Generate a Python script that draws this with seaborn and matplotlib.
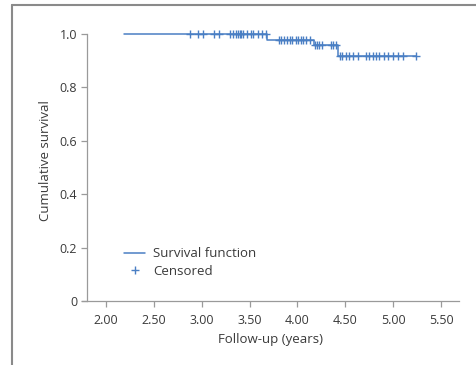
import numpy as np
import pandas as pd
import matplotlib
matplotlib.use("Agg")
import matplotlib.pyplot as plt
from matplotlib.lines import Line2D
import seaborn as sns

# ---- data ----
step_times = [2.19, 3.68, 4.17, 4.42, 5.24]
step_surv = [1.0, 0.978, 0.957, 0.919, 0.919]
censor_times = [2.875, 2.96, 3.01, 3.13, 3.18, 3.30, 3.33, 3.36, 3.38, 3.40, 3.41, 3.43,
                3.47, 3.51, 3.54, 3.59, 3.63, 3.67,
                3.805, 3.83, 3.855, 3.89, 3.92, 3.945, 3.99, 4.01, 4.04, 4.06, 4.09, 4.13,
                4.18, 4.20, 4.23, 4.26, 4.35, 4.375, 4.40,
                4.44, 4.47, 4.51, 4.54, 4.58, 4.63, 4.72, 4.75, 4.785, 4.82, 4.85, 4.90,
                4.95, 5.00, 5.05, 5.10, 5.24]
x_ticks = [2.0, 2.5, 3.0, 3.5, 4.0, 4.5, 5.0, 5.5]
x_ticklabels = ["2.00", "2.50", "3.00", "3.50", "4.00", "4.50", "5.00", "5.50"]
y_ticks = [0, 0.2, 0.4, 0.6, 0.8, 1.0]
y_ticklabels = ["0", "0.2", "0.4", "0.6", "0.8", "1.0"]

sns.set_theme(style="white")
plt.rcParams["font.family"] = ["Open Sans", "DejaVu Sans"]

blue = "#4a7fc4"
txt = "#3a3a3a"
grey = "#9a9a9a"

curve = pd.DataFrame({"t": step_times, "s": step_surv})
idx = np.searchsorted(np.array(step_times), np.array(censor_times), side="right") - 1
cens = pd.DataFrame({"t": censor_times, "s": np.array(step_surv)[idx]})

fig = plt.figure(figsize=(4.76, 3.65), dpi=100)
ax = fig.add_axes([82 / 476, 64 / 365, (459 - 82) / 476, (301 - 20.6) / 365])

sns.lineplot(data=curve, x="t", y="s", drawstyle="steps-post", color=blue,
             linewidth=1.1, ax=ax, legend=False)
sns.scatterplot(data=cens, x="t", y="s", marker="+", color=blue, s=26,
                linewidth=1.0, ax=ax, legend=False, zorder=3)

ax.set_xlim(1.75, 5.6875)
ax.set_ylim(0, 1.05)
ax.set_xticks(x_ticks)
ax.set_xticklabels(x_ticklabels)
ax.set_yticks(y_ticks)
ax.set_yticklabels(y_ticklabels)
ax.set_xlabel("Follow-up (years)", fontsize=9.5, color=txt, labelpad=5)
ax.set_ylabel("Cumulative survival", fontsize=9.5, color=txt, labelpad=5)

for side in ["top", "right"]:
    ax.spines[side].set_visible(False)
ax.spines["left"].set_position(("data", 1.8))
ax.spines["left"].set_bounds(0, 1.0)
for side in ["left", "bottom"]:
    ax.spines[side].set_color(grey)
    ax.spines[side].set_linewidth(0.9)
ax.tick_params(axis="both", which="major", direction="out", length=4, width=0.9,
               color=grey, labelsize=9, labelcolor=txt, left=True, bottom=True, pad=3)
ax.tick_params(axis="x", pad=5)

handles = [Line2D([], [], color=blue, linewidth=1.1),
           Line2D([], [], color=blue, marker="+", linestyle="none", markersize=5.5,
                  markeredgewidth=1.0)]
ax.legend(handles, ["Survival function", "Censored"], loc="lower left",
          bbox_to_anchor=(0.08, 0.04), frameon=False, fontsize=9.5,
          labelcolor=txt, handlelength=1.6, handletextpad=0.6, labelspacing=0.35)

# outer frame (top and left borders)
fig.add_artist(Line2D([12 / 476, 1.0], [1 - 5 / 365, 1 - 5 / 365],
                      transform=fig.transFigure, color="#8a8a8a", linewidth=1.5))
fig.add_artist(Line2D([12 / 476, 12 / 476], [0, 1 - 5 / 365],
                      transform=fig.transFigure, color="#8a8a8a", linewidth=1.5))

fig.savefig("out.png", dpi=100)
